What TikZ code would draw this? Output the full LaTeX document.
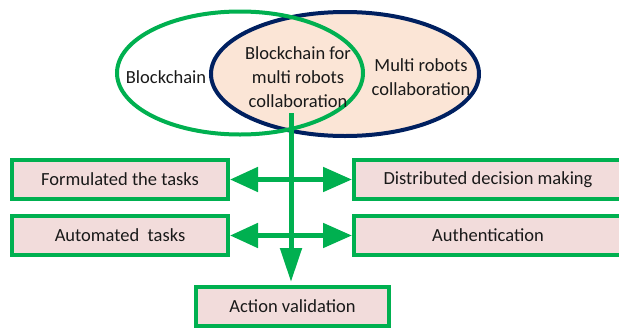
\documentclass[tikz,border=0pt]{standalone}
\usepackage{fontspec}
\setmainfont{Carlito}
\usetikzlibrary{shapes.geometric,arrows.meta}
\definecolor{grn}{HTML}{00B050}
\definecolor{navy}{HTML}{002060}
\definecolor{peach}{HTML}{FBE5D6}
\definecolor{boxfill}{HTML}{F2DCDB}
\begin{document}
\begin{tikzpicture}[x=1pt,y=-1pt,
  txt/.style={font=\fontsize{18.5}{24}\selectfont, align=center, inner sep=0pt, text=black!90},
  taskbox/.style={draw=grn, line width=4pt, fill=boxfill, minimum height=39pt, inner sep=0pt,
    font=\fontsize{18.5}{24}\selectfont, text=black!90},
  conn/.style={draw=grn, line width=5pt},
  harrow/.style={conn, {Triangle[length=28pt,width=24pt]}-{Triangle[length=29pt,width=24pt]}},
  varrow/.style={conn, -{Triangle[length=34pt,width=21pt]}, shorten >=3pt}]
\useasboundingbox (0,0) rectangle (619,330);
% ellipses
\node[ellipse, draw=navy, line width=4pt, fill=peach, minimum width=268pt, minimum height=124pt, inner sep=0pt] (mr) at (345,74) {};
\node[ellipse, draw=grn, line width=4pt, minimum width=246pt, minimum height=123pt, inner sep=0pt] (bc) at (240,73) {};
% texts
\node[txt] (tbc) at (166,77) {Blockchain};
\node[txt] (tmid) at (298,77) {Blockchain for\\multi robots\\collaboration};
\node[txt] (tmr) at (421,77) {Multi robots\\collaboration};
% boxes
\node[taskbox, minimum width=216pt] (ft) at (120,179.5) {Formulated the tasks};
\node[taskbox, minimum width=268pt] (dd) at (488,179.5) {Distributed decision making};
\node[taskbox, minimum width=216pt] (at) at (120,235.5) {Automated\ \ tasks};
\node[taskbox, minimum width=268pt] (au) at (488,235.5) {Authentication};
\node[taskbox, minimum width=193pt] (av) at (292.5,306.5) {Action validation};
% connectors
\coordinate (src) at (291,113);
\draw[varrow] (src) -- (src |- av.north);
\draw[harrow] (ft.east) -- (dd.west);
\draw[harrow] (at.east) -- (au.west);
\end{tikzpicture}
\end{document}
